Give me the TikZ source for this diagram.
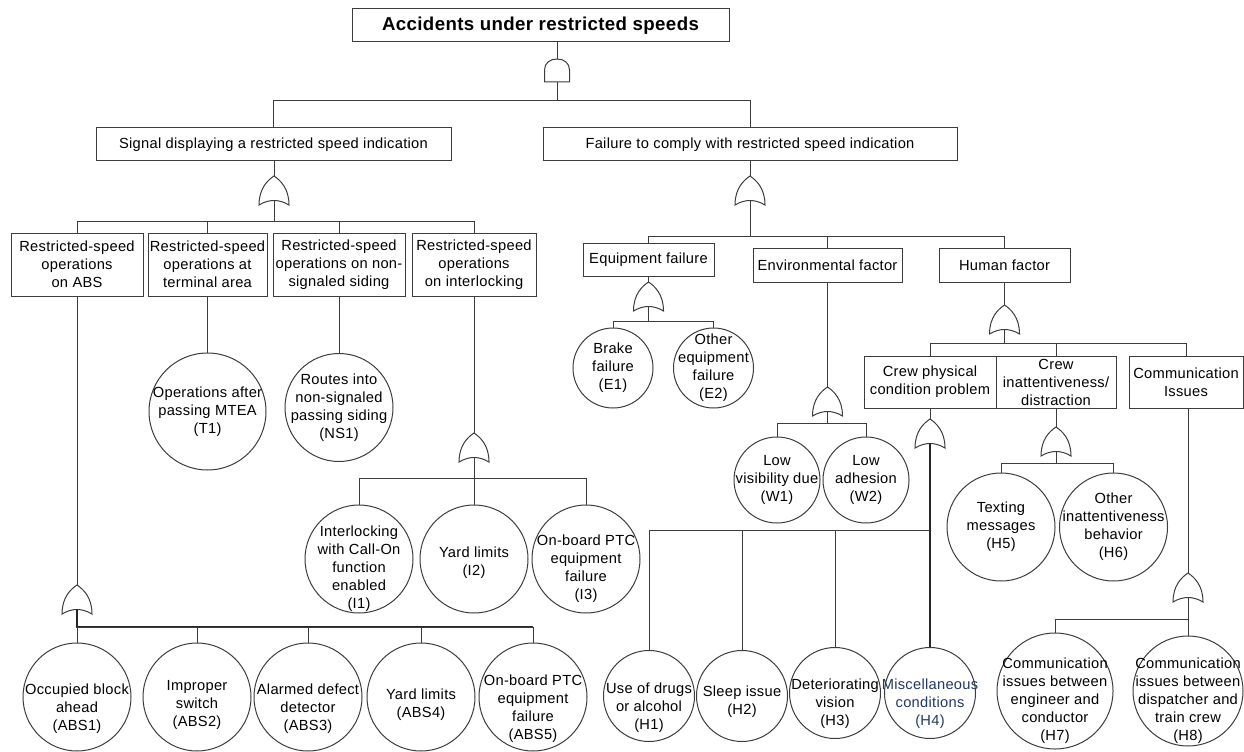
\documentclass[tikz,border=0pt]{standalone}
\usepackage{fontspec}
\setmainfont{Liberation Sans}[LetterSpace=2]
\definecolor{lncol}{RGB}{60,60,60}
\definecolor{misccol}{RGB}{32,56,100}
% text of an event circle, kept out of the circle's size
\newcommand{\ct}[2][-3pt]{\smash{\makebox[0pt]{\raisebox{#1}{\begin{tabular}{@{}c@{}}#2\end{tabular}}}}}
\tikzset{
	orgate/.pic={
			\draw[fill=white] (-15,29) .. controls (-15,12) and (-6,4) .. (0,0) .. controls (6,4) and (15,12) .. (15,29) .. controls (5,23) and (-5,23) .. (-15,29) -- cycle;
			\coordinate (-top) at (0,0);
			\coordinate (-bot) at (0,24);
		},
	andgate/.pic={
			\draw[fill=white] (-12.5,23) -- (-12.5,11) .. controls (-12.5,4) and (-7,0) .. (0,0) .. controls (7,0) and (12.5,4) .. (12.5,11) -- (12.5,23) -- cycle;
			\coordinate (-top) at (0,0);
			\coordinate (-bot) at (0,23);
		}
}

\begin{document}
\begin{tikzpicture}[x=0.75pt,y=-0.75pt,line width=0.75pt,color=lncol,
		every node/.style={text=black,font=\fontsize{11}{13.5}\selectfont},
		gbox/.style 2 args={draw,rectangle,align=center,inner sep=0pt,minimum width=#1,minimum height=#2},
		ev/.style={draw,circle,inner sep=0pt,minimum size=#1},
		bus/.style={line width=1.3pt,color=black!85}]

			\useasboundingbox (0,0) rectangle (1244,752);

			% top event
			\node[gbox={282.75pt}{24.75pt},font=\bfseries\fontsize{14}{16}\selectfont] (top) at (540.5,25.5) {Accidents under restricted speeds};
			\pic (g0) at (557,59) {andgate};
			\coordinate (j0) at (557,101);
			\node[gbox={266.25pt}{24.75pt}] (sig) at (273.5,144.5) {Signal displaying a restricted speed indication};
			\node[gbox={310.5pt}{24.75pt}] (fail) at (750,144.5) {Failure to comply with restricted speed indication};
			\draw (g0-top |- top.south) -- (g0-top);
			\draw (g0-bot) -- (j0) -| (sig.north);
			\draw (j0) -| (fail.north);

			% signal branch
			\pic (gs) at (274,176) {orgate};
			\coordinate (js) at (274,222);
			\node[gbox={99pt}{47.25pt}] (abs) at (77,264.5) {Restricted-speed\\operations\\on ABS};
			\node[gbox={89.25pt}{47.25pt}] (term) at (207.5,264.5) {Restricted-speed\\operations at\\terminal area};
			\node[gbox={99pt}{47.25pt}] (sid) at (339,264.5) {Restricted-speed\\operations on non-\\signaled siding};
			\node[gbox={93pt}{47.25pt}] (ilk) at (474,264.5) {Restricted-speed\\operations\\on interlocking};
			\draw (gs-top |- sig.south) -- (gs-top);
			\draw (gs-bot) -- (js);
			\foreach \n in {abs,term,sid,ilk} {
					\draw (js) -| (\n.north);
				}

			% ABS
			\pic (ga) at (77,585) {orgate};
			\coordinate (ja) at (77,627);
			\node[ev=81pt] (abs1) at (77,697) {\ct[-12pt]{Occupied block\\ahead\\(ABS1)}};
			\node[ev=81pt] (abs2) at (197,697) {\ct[-9pt]{Improper\\switch\\(ABS2)}};
			\node[ev=81pt] (abs3) at (308,697) {\ct[-12pt]{Alarmed defect\\detector\\(ABS3)}};
			\node[ev=81pt] (abs4) at (421,697) {\ct[-9pt]{Yard limits\\(ABS4)}};
			\node[ev=81pt] (abs5) at (533,697) {\ct[-12pt]{On-board PTC\\equipment\\failure\\(ABS5)}};
			\draw (abs.south) -- (ga-top);
			\draw[bus] (ga-bot) -- (ja) -- (ja -| abs5.north);
			\foreach \x in {1,...,5} {
					\draw (ja) -| (abs\x.north);
				}

			% terminal area and siding
			\node[ev=87.75pt] (t1) at (207.5,411.5) {\ct{Operations after\\passing MTEA\\(T1)}};
			\node[ev=81pt] (ns1) at (339,407.5) {\ct{Routes into\\non-signaled\\passing siding\\(NS1)}};
			\draw (term.south) -- (t1.north);
			\draw (sid.south) -- (ns1.north);

			% interlocking
			\pic (gi) at (474,433) {orgate};
			\coordinate (ji) at (474,478);
			\node[ev=81pt] (i1) at (359,559) {\ct[-10.5pt]{Interlocking\\with Call-On\\function\\enabled\\(I1)}};
			\node[ev=81pt] (i2) at (474,559) {\ct[-6pt]{Yard limits\\(I2)}};
			\node[ev=81pt] (i3) at (586,559) {\ct[-10.5pt]{On-board PTC\\equipment\\failure\\(I3)}};
			\draw (ilk.south) -- (gi-top);
			\draw (gi-bot) -- (ji);
			\foreach \x in {1,2,3} {
					\draw (ji) -| (i\x.north);
				}

			% failure branch
			\pic (gf) at (750,176) {orgate};
			\coordinate (jf) at (750,236);
			\node[gbox={98.25pt}{24.75pt}] (equ) at (648.5,259.5) {Equipment failure};
			\node[gbox={111.75pt}{25.5pt}] (env) at (827.5,265) {Environmental factor};
			\node[gbox={98.25pt}{25.5pt}] (hum) at (1004.5,265) {Human factor};
			\draw (fail.south) -- (gf-top);
			\draw (gf-bot) -- (jf);
			\foreach \n in {equ,env,hum} {
					\draw (jf) -| (\n.north);
				}

			% equipment
			\pic (ge) at (648.5,282) {orgate};
			\coordinate (je) at (648.5,321);
			\node[ev=60pt] (e1) at (613,368) {\ct{Brake\\failure\\(E1)}};
			\node[ev=60pt] (e2) at (713.5,368) {\ct{Other\\equipment\\failure\\(E2)}};
			\draw (equ.south) -- (ge-top);
			\draw (ge-bot) -- (je);
			\draw (je) -| (e1.north);
			\draw (je) -| (e2.north);

			% environment
			\pic (gw) at (827.5,387) {orgate};
			\coordinate (jw) at (827.5,423);
			\node[ev=64.5pt] (w1) at (777,480) {\ct{Low\\visibility due\\(W1)}};
			\node[ev=64.5pt] (w2) at (866,480) {\ct{Low\\adhesion\\(W2)}};
			\draw (env.south) -- (gw-top);
			\draw (gw-bot) -- (jw);
			\draw (jw) -| (w1.north);
			\draw (jw) -| (w2.north);

			% human
			\pic (gh) at (1004.5,305) {orgate};
			\coordinate (jh) at (1004.5,343);
			\node[gbox={99pt}{39pt}] (cphy) at (930,382) {Crew physical\\condition problem};
			\node[gbox={90pt}{39pt}] (cina) at (1056,382) {Crew\\inattentiveness/\\distraction};
			\node[gbox={85.5pt}{39pt}] (com) at (1186,382) {Communication\\Issues};
			\draw (hum.south) -- (gh-top);
			\draw (gh-bot) -- (jh);
			\foreach \n in {cphy,cina,com} {
					\draw (jh) -| (\n.north);
				}

			% crew physical condition
			\pic (gp) at (930,419) {orgate};
			\coordinate (jp) at (930,530);
			\node[ev=68.25pt] (h1) at (649,696) {\ct[-12pt]{Use of drugs\\or alcohol\\(H1)}};
			\node[ev=68.25pt] (h2) at (742,696) {\ct[-7pt]{Sleep issue\\(H2)}};
			\node[ev=68.25pt] (h3) at (835,693) {\ct[-11pt]{Deteriorating\\vision\\(H3)}};
			\node[ev=68.25pt] (h4) at (930,693) {\ct[-11pt]{\color{misccol}Miscellaneous\\\color{misccol}conditions\\\color{misccol}(H4)}};
			\draw (cphy.south) -- (gp-top);
			\draw[bus] (gp-bot) -- (jp) -- (h4.north);
			\foreach \x in {1,2,3} {
					\draw (jp) -| (h\x.north);
				}

			% crew inattentiveness
			\pic (gc) at (1056,427) {orgate};
			\coordinate (jc) at (1056,463);
			\node[ev=81pt] (h5) at (1001,527) {\ct{Texting\\messages\\(H5)}};
			\node[ev=81pt] (h6) at (1113.5,527) {\ct{Other\\inattentiveness\\behavior\\(H6)}};
			\draw (cina.south) -- (gc-top);
			\draw (gc-bot) -- (jc);
			\draw (jc) -| (h5.north);
			\draw (jc) -| (h6.north);

			% communication
			\pic (gm) at (1188,573) {orgate};
			\coordinate (jm) at (1188,619);
			\node[ev=87pt] (h7) at (1055,691) {\ct[-10.5pt]{Communication\\issues between\\engineer and\\conductor\\(H7)}};
			\node[ev=82.5pt] (h8) at (1188,691) {\ct[-10.5pt]{Communication\\issues between\\dispatcher and\\train crew\\(H8)}};
			\draw (gm-top |- com.south) -- (gm-top);
			\draw (gm-bot) -- (jm);
			\draw (jm) -| (h7.north);
			\draw (jm) -| (h8.north);
		\end{tikzpicture}
\end{document}
